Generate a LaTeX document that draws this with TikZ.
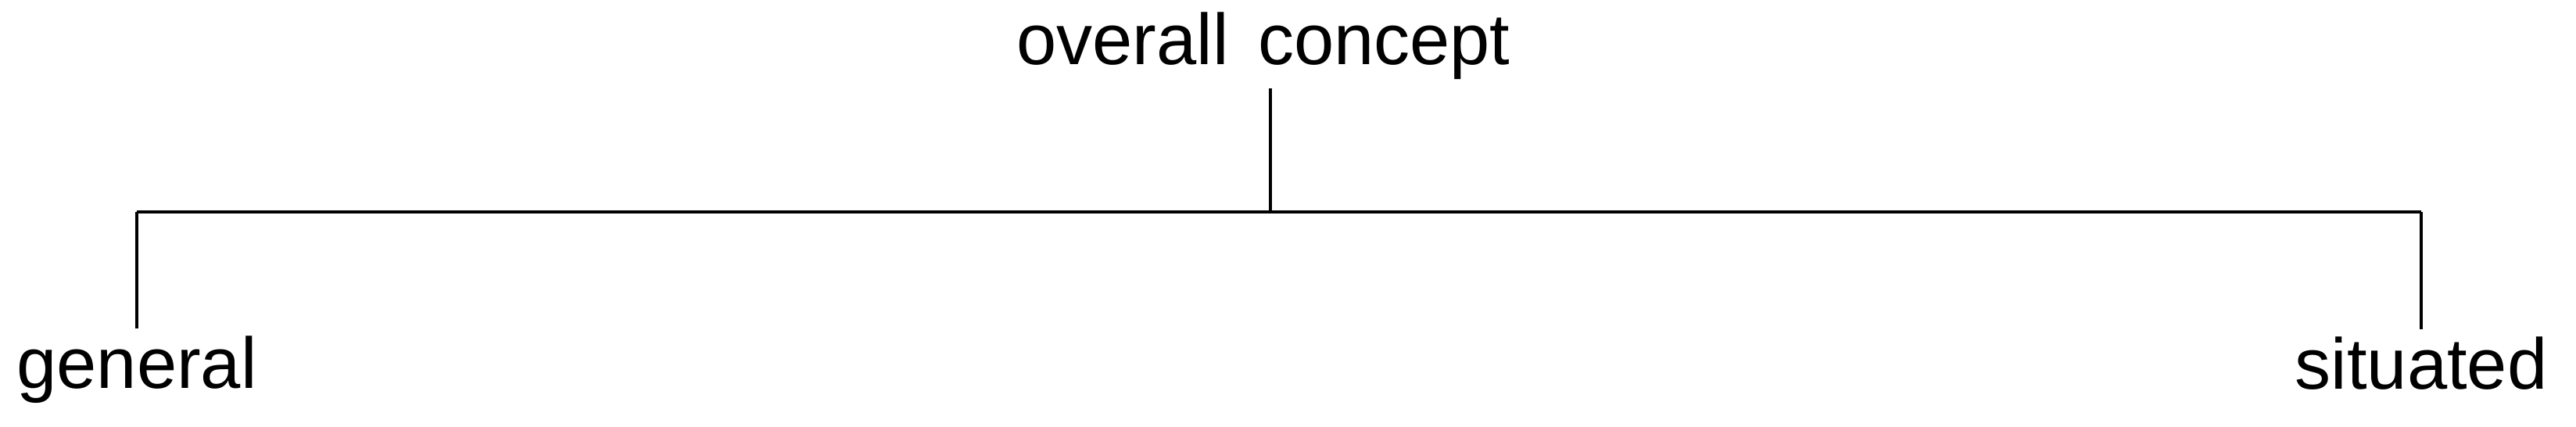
\documentclass[tikz,border=0pt]{standalone}
\usepackage{fontspec}
\setmainfont{Liberation Sans}
\usetikzlibrary{positioning}

\begin{document}
\begin{tikzpicture}[x=1cm, y=-1cm,
  Lbl/.style={font=\fontsize{26.2pt}{30pt}\selectfont, inner sep=0.1cm},
  Stem/.style={line width=1.1pt}, Bar/.style={line width=1.4pt}]
  \useasboundingbox (0,0) rectangle (32.95,5.46);
  \node [Lbl, anchor=base] (concept) at (16.16,0.83) {overall\hspace{0.12cm} concept};
  \node [Lbl, anchor=base] (general) at (1.75,4.97) {general};
  \node [Lbl, anchor=base] (situated) at (30.97,4.98) {situated};
  \coordinate (mid) at (16.25,2.71);
  \draw[Bar] (general |- mid) -- (situated |- mid);
  \draw[Stem] (concept.south -| mid) -- (mid);
  \draw[Stem] (general.north) -- (general |- mid);
  \draw[Stem] (situated.north) -- (situated |- mid);
\end{tikzpicture}
\end{document}
